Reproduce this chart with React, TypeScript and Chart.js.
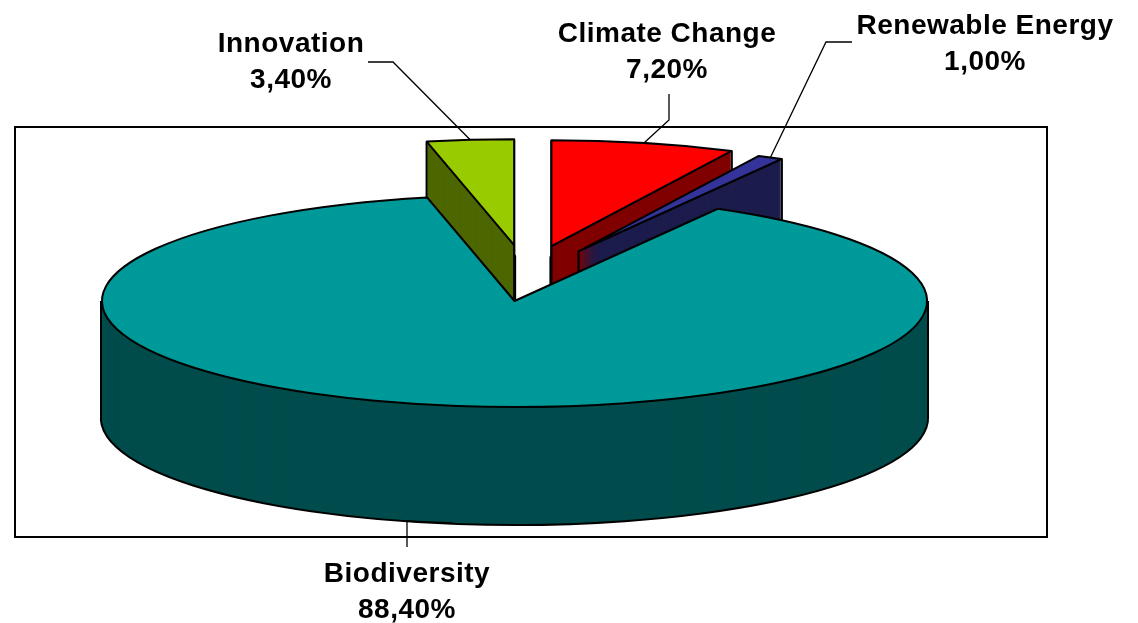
import React, { useEffect, useRef } from 'react';
import { Chart, registerables } from 'chart.js';

Chart.register(...registerables);

// ---- data ----
const categories = ['Climate Change', 'Renewable Energy', 'Biodiversity', 'Innovation'];
const shares = [7.2, 1.0, 88.4, 3.4];
const topColors = ['#FF0000', '#333399', '#009999', '#99CC00'];
const sideColors = ['#800000', '#1C1C4D', '#004C4C', '#4C6600'];
const explode = [0.53, 0.53, 0, 0.53];

// ---- label layout (centre x, first baseline, leader start & elbow) ----
const labelCenterX = [667, 985, 407, 291];
const labelBaseline = [42, 34, 582, 52];
const leaderStart = [[669, 94], [852, 42], [407, 547], [368, 62]];
const leaderElbow = [[669, 120], [826, 42], [407, 521], [393, 62]];

const W = 1138;
const H = 623;
const DEPTH = 117;
const EXPLODE_X = 0.515; // horizontal foreshortening of the explosion
const EXPLODE_SHIFT = 22; // perspective drift of exploded slices
const LINE_HEIGHT = 36;
const PLOT_BOX = { x: 15, y: 127, w: 1032, h: 410 };

const fmt = (v: number) => v.toFixed(2).replace('.', ',') + '%';

function geometry(chart: any) {
  const area = chart.chartArea;
  const meta = chart.getDatasetMeta(0);
  return (meta.data as any[]).map((el, i) => {
    const p = el.getProps(['x', 'y', 'startAngle', 'endAngle', 'outerRadius'], true);
    const ry = p.outerRadius;
    const rx = (p.outerRadius * area.width) / area.height;
    const mid = (p.startAngle + p.endAngle) / 2;
    const e = explode[i] || 0;
    const ax = p.x + e * (EXPLODE_X * rx * Math.cos(mid) + EXPLODE_SHIFT);
    const ay = p.y + e * ry * Math.sin(mid);
    return { el, cx: p.x, cy: p.y, ax, ay, rx, ry, s: p.startAngle, t: p.endAngle, mid };
  });
}

function vertices(g: any) {
  const pts: number[][] = [[g.ax, g.ay]];
  pts.push([g.ax + g.rx * Math.cos(g.s), g.ay + g.ry * Math.sin(g.s)]);
  pts.push([g.ax + g.rx * Math.cos(g.t), g.ay + g.ry * Math.sin(g.t)]);
  [0, Math.PI].forEach((a) => {
    let b = a;
    while (b < g.s) b += Math.PI * 2;
    if (b <= g.t) {
      const out = a === 0 ? 1 : -1;
      pts.push([g.ax + g.rx * Math.cos(b) + out, g.ay + g.ry * Math.sin(b)]);
    }
  });
  return pts;
}

const pie3d = {
  id: 'pie3d',
  beforeDatasetsDraw(chart: any) {
    const ctx: CanvasRenderingContext2D = chart.ctx;
    const geo = geometry(chart);
    ctx.save();
    // plot area box
    ctx.strokeStyle = '#000';
    ctx.lineWidth = 2;
    ctx.strokeRect(PLOT_BOX.x, PLOT_BOX.y, PLOT_BOX.w, PLOT_BOX.h);

    ctx.lineJoin = 'round';
    const path = (g: any, d: number) => {
      ctx.beginPath();
      ctx.moveTo(g.ax, g.ay + d);
      ctx.ellipse(g.ax, g.ay + d, g.rx, g.ry, 0, g.s, g.t);
      ctx.closePath();
    };
    // extruded sides
    for (let d = DEPTH; d >= 1; d--) {
      geo.forEach((g, i) => {
        path(g, d);
        if (d === DEPTH) {
          ctx.lineWidth = 4;
          ctx.strokeStyle = '#000';
          ctx.stroke();
        }
        ctx.fillStyle = sideColors[i];
        ctx.fill();
        ctx.beginPath();
        vertices(g).forEach(([x, y]) => {
          ctx.moveTo(x, y + d - 1);
          ctx.lineTo(x, y + d + 0.6);
        });
        ctx.lineWidth = 2;
        ctx.strokeStyle = '#000';
        ctx.stroke();
      });
    }
    // top faces drawn by the arc elements, stretched into the ellipse
    geo.forEach((g) => {
      ctx.save();
      ctx.translate(g.ax, g.ay);
      ctx.scale(g.rx / g.ry, 1);
      ctx.translate(-g.cx, -g.cy);
      g.el.draw(ctx);
      ctx.restore();
    });
    geo.forEach((g) => {
      path(g, 0);
      ctx.lineWidth = 2;
      ctx.strokeStyle = '#000';
      ctx.stroke();
    });
    ctx.restore();
    return false;
  },
  afterDraw(chart: any) {
    const ctx: CanvasRenderingContext2D = chart.ctx;
    const geo = geometry(chart);
    ctx.save();
    // leaders
    ctx.strokeStyle = '#000';
    ctx.lineWidth = 1.3;
    geo.forEach((g, i) => {
      const front = Math.sin(g.mid) > 0;
      const tx = g.ax + g.rx * Math.cos(g.mid);
      const ty = g.ay + g.ry * Math.sin(g.mid) + (front ? DEPTH : 0);
      ctx.beginPath();
      ctx.moveTo(leaderStart[i][0], leaderStart[i][1]);
      ctx.lineTo(leaderElbow[i][0], leaderElbow[i][1]);
      ctx.lineTo(tx, ty);
      ctx.stroke();
    });
    // labels
    ctx.fillStyle = '#000';
    ctx.font = "bold 28px 'Liberation Sans', Arial, sans-serif";
    ctx.textAlign = 'center';
    ctx.textBaseline = 'alphabetic';
    try {
      (ctx as any).letterSpacing = '0.5px';
    } catch (e) {}
    categories.forEach((c, i) => {
      ctx.fillText(c, labelCenterX[i], labelBaseline[i]);
      ctx.fillText(fmt(shares[i]), labelCenterX[i], labelBaseline[i] + LINE_HEIGHT);
    });
    ctx.restore();
  },
};

export default function App() {
  const ref = useRef<HTMLCanvasElement>(null);
  useEffect(() => {
    if (!ref.current) return;
    const chart = new Chart(ref.current, {
      type: 'pie',
      data: {
        labels: categories,
        datasets: [
          {
            data: shares,
            backgroundColor: topColors,
            borderWidth: 0,
            hoverOffset: 0,
            offset: 0,
            clip: false as any,
          } as any,
        ],
      },
      options: {
        animation: false,
        responsive: false,
        devicePixelRatio: 1,
        rotation: 0,
        events: [],
        layout: { padding: { left: 102, right: 211, top: 195, bottom: 216 } },
        plugins: { legend: { display: false }, tooltip: { enabled: false } },
      } as any,
      plugins: [pie3d],
    });
    return () => chart.destroy();
  }, []);
  return (
    <div style={{ position: 'fixed', left: 0, top: 0, width: W, height: H, background: '#fff' }}>
      <canvas ref={ref} width={W} height={H} style={{ display: 'block', width: W, height: H }} />
    </div>
  );
}
